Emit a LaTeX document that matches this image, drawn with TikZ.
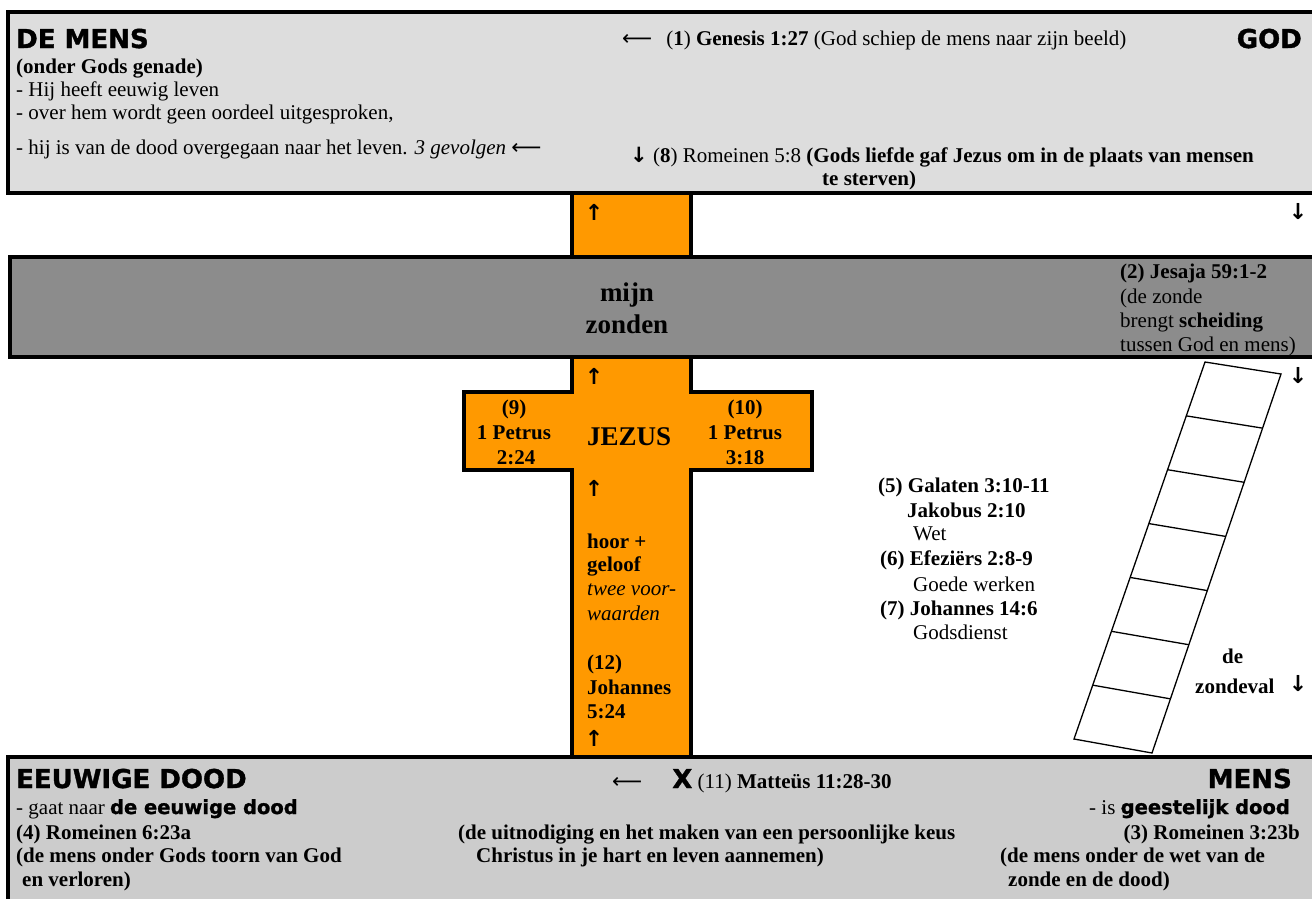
\documentclass[tikz,border=0pt]{standalone}
\usepackage{fontspec}
\usepackage{graphicx}
\setmainfont{Liberation Serif}
\newfontfamily\hd{DejaVu Sans}[UprightFont=* Bold, FakeBold=1.3]
\newfontfamily\arr{DejaVu Sans}
\usetikzlibrary{calc}
\definecolor{crossorange}{RGB}{255,153,0}
\definecolor{topgray}{RGB}{221,221,221}
\definecolor{bargray}{RGB}{140,140,140}
\definecolor{botgray}{RGB}{204,204,204}
\begin{document}
\begin{tikzpicture}[x=1pt,y=-1pt,
  txt/.style={inner sep=0pt, anchor=base west, font=\fontsize{21}{24}\selectfont},
  txtb/.style={inner sep=0pt, anchor=base west, font=\fontsize{21}{24}\selectfont\bfseries},
  txti/.style={inner sep=0pt, anchor=base west, font=\fontsize{21}{24}\selectfont\itshape},
  big/.style={inner sep=0pt, anchor=base west, font=\fontsize{27}{30}\selectfont\bfseries},
  head/.style={inner sep=0pt, anchor=base west, font=\hd\fontsize{26}{30}\selectfont},
  arrw/.style={inner sep=0pt, anchor=center, font=\arr\bfseries\fontsize{22}{24}\selectfont},
  frame/.style={line width=4pt, draw=black},
  rail/.style={line width=1.3pt, draw=black},
]
\useasboundingbox (0,0) rectangle (1312,898);
\begin{scope}
\clip (0,0) rectangle (1312,898);
% cross
\draw[frame, fill=crossorange] (572,192) -- (691,192) -- (691,392) -- (812,392) -- (812,470) -- (691,470) -- (691,757) -- (572,757) -- (572,470) -- (464,470) -- (464,392) -- (572,392) -- cycle;
% bands
\draw[frame, fill=topgray] (8,12) rectangle (1330,193);
\draw[frame, fill=bargray] (10,257) rectangle (1330,357);
\draw[frame, fill=botgray] (8,757) rectangle (1330,920);
% ladder
\coordinate (lt) at (1205,362);
\coordinate (rt) at (1281,374);
\coordinate (lb) at (1074,739);
\coordinate (rb) at (1152,753);
\draw[rail] (lt) -- (rt) -- (rb) -- (lb) -- cycle;
\foreach \i in {1,...,6} {
  \draw[rail] ($(lt)!\i/7!(lb)$) -- ($(rt)!\i/7!(rb)$);
}
\end{scope}

% top band
\node[head] (demens) at (16,48) {DE MENS};
\node[txtb] (genade) at (16,73) {(onder Gods genade)};
\node[txt] (t1) at (16,96) {- Hij heeft eeuwig leven};
\node[txt] (t2) at (16,119) {- over hem wordt geen oordeel uitgesproken,};
\node[txt] (t3) at (16,154) {- hij is van de dood overgegaan naar het leven. \textit{3 gevolgen} {\arr ⟵}};
\node[txt] (gen) at (622,45) {{\arr ⟵}\hspace{14pt}(\textbf{1}) \textbf{Genesis 1:27} (God schiep de mens naar zijn beeld)};
\node[head, anchor=base east] (god) at (1302,48) {GOD};
\node[txt] (rom) at (630,162) {{\arr\bfseries ↓} (\textbf{8}) Romeinen 5:8 \textbf{(Gods liefde gaf Jezus om in de plaats van mensen}};
\node[txtb] (sterven) at (822,185) {te sterven)};

% arrows between bands
\node[arrw] (a1) at (594,212) {↑};
\node[arrw] (a2) at (1298,212) {↓};
\node[arrw] (a3) at (594,376) {↑};
\node[arrw] (a4) at (1298,376) {↓};

% sin bar
\node[big, anchor=base] (mijn) at (627,301) {mijn};
\node[big, anchor=base] (zonden) at (627,333) {zonden};
\node[txtb] (jes1) at (1120,278) {(2) Jesaja 59:1-2};
\node[txt] (jes2) at (1120,303) {(de zonde};
\node[txt] (jes3) at (1120,327) {brengt \textbf{scheiding}};
\node[txt] (jes4) at (1120,351) {tussen God en mens)};

% cross texts
\node[txtb, anchor=base] (p9a) at (514,414) {(9)};
\node[txtb, anchor=base] (p9b) at (514,439) {1 Petrus};
\node[txtb, anchor=base] (p9c) at (516,464) {2:24};
\node[txtb, anchor=base] (p10a) at (745,414) {(10)};
\node[txtb, anchor=base] (p10b) at (745,439) {1 Petrus};
\node[txtb, anchor=base] (p10c) at (745,464) {3:18};
\node[big] (jezus) at (587,445) {JEZUS};
\node[arrw] (a5) at (594,488) {↑};
\node[txtb] (hoor) at (587,548) {hoor +};
\node[txtb] (geloof) at (587,571) {geloof};
\node[txti] (twee) at (587,595) {twee voor-};
\node[txti] (waarden) at (587,620) {waarden};
\node[txtb] (j12) at (587,669) {(12)};
\node[txtb] (joh) at (587,694) {Johannes};
\node[txtb] (j524) at (587,718) {5:24};
\node[arrw] (a6) at (594,738) {↑};

% ladder texts
\node[txtb] (gal) at (878,492) {(5) Galaten 3:10-11};
\node[txtb] (jak) at (907,517) {Jakobus 2:10};
\node[txt] (wet) at (913,540) {Wet};
\node[txtb] (efe) at (880,565) {(6) Efeziërs 2:8-9};
\node[txt] (goede) at (913,591) {Goede werken};
\node[txtb] (joh146) at (880,615) {(7) Johannes 14:6};
\node[txt] (gods) at (913,639) {Godsdienst};
\node[txtb] (de) at (1222,663) {de};
\node[txtb] (zondeval) at (1195,693) {zondeval};
\node[arrw] (a7) at (1298,684) {↓};

% bottom band
\node[head] (eeuwig) at (16,788) {EEUWIGE DOOD};
\node[txt] (b1) at (16,814) {- gaat naar {\hd\fontsize{19.5}{22}\selectfont de eeuwige dood}};
\node[txtb] (b2) at (16,839) {(4) Romeinen 6:23a};
\node[txtb] (b3) at (16,862) {(de mens onder Gods toorn van God};
\node[txtb] (b4) at (22,886) {en verloren)};
\node[txt] (mat) at (612,788) {{\arr ⟵}\hspace{30pt}{\hd\fontsize{26}{30}\selectfont X} (11) \textbf{Matteüs 11:28-30}};
\node[txtb] (uit1) at (458,839) {(de uitnodiging en het maken van een persoonlijke keus};
\node[txtb] (uit2) at (476,862) {Christus in je hart en leven aannemen)};
\node[head, anchor=base east] (mens) at (1292,788) {MENS};
\node[txt, anchor=base east] (r1) at (1290,814) {- is {\hd\fontsize{19.5}{22}\selectfont geestelijk dood}};
\node[txtb, anchor=base east] (r2) at (1300,839) {(3) Romeinen 3:23b};
\node[txtb] (r3) at (1000,862) {(de mens onder de wet van de};
\node[txtb] (r4) at (1008,886) {zonde en de dood)};
\end{tikzpicture}
\end{document}
